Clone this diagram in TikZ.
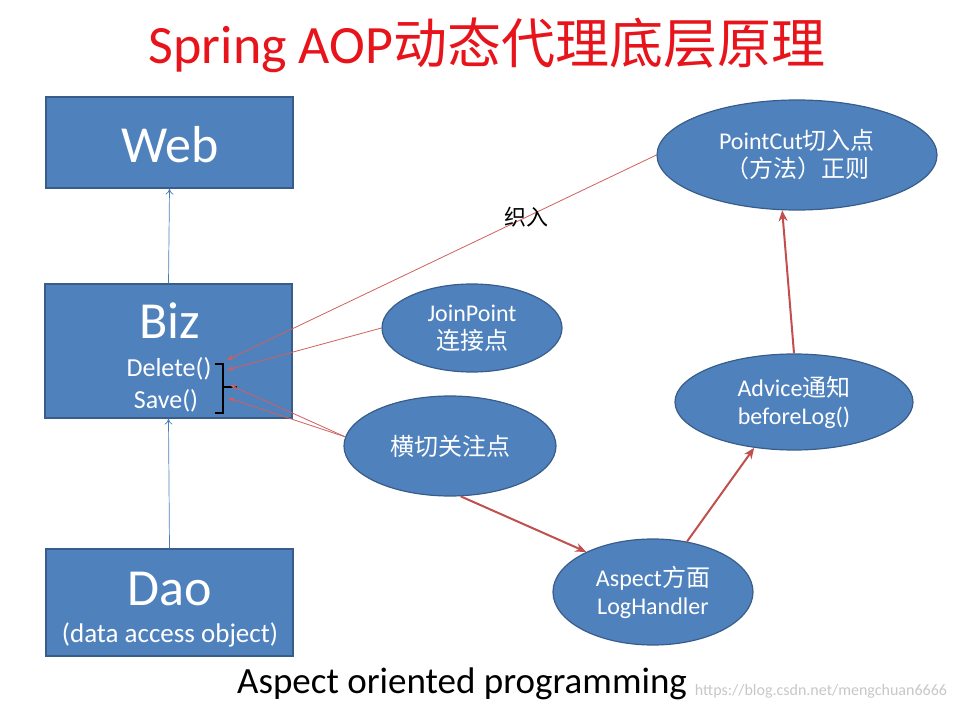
\documentclass[tikz,border=0pt]{standalone}
\usepackage{fontspec}
\setmainfont{Carlito}
\newfontfamily\cjk{Noto Sans CJK SC}
\usetikzlibrary{
  arrows.meta,
  shapes.geometric,
  positioning
}
\definecolor{boxblue}{HTML}{4F81BD}
\definecolor{boxline}{HTML}{385D8A}
\definecolor{titlered}{HTML}{E8141B}
\definecolor{linkred}{HTML}{D0605E}
\definecolor{flowred}{HTML}{C0504D}
\definecolor{uparrow}{HTML}{4A7EBB}

\tikzset{
  layer/.style={draw=boxline, line width=1.2pt, fill=boxblue, inner sep=0pt},
  bubble/.style={ellipse, draw=boxline, line width=1.2pt, fill=boxblue,
    text=white, inner sep=0pt, align=center,
    font=\fontsize{24}{28}\selectfont},
  weave/.style={draw=linkred, line width=0.8pt, -{Stealth[length=7pt,width=5pt]}},
  flow/.style={draw=flowred, line width=2pt, -{Stealth[length=11pt,width=9pt]}},
  callup/.style={draw=uparrow, line width=0.7pt, -{To[length=6pt,width=8pt]}}
}

\begin{document}
\begin{tikzpicture}[x=1pt, y=-1pt]
  \useasboundingbox (0,0) rectangle (959,711);

  % title
  \node[text=titlered, font=\fontsize{54}{58}\selectfont] (title) at (487,45)
    {Spring AOP\cjk 动态代理底层原理};

  % layers
  \node[layer, minimum width=247pt, minimum height=91pt] (web) at (169.5,142.5) {};
  \node[layer, minimum width=247pt, minimum height=134pt] (biz) at (168.5,351) {};
  \node[layer, minimum width=247pt, minimum height=107pt] (dao) at (169.5,602.5) {};

  \node[text=white, font=\fontsize{52}{56}\selectfont] (webtxt) at (170,145) {Web};
  \node[text=white, font=\fontsize{52}{56}\selectfont] (biztxt) at (170,321) {Biz};
  \node[text=white, font=\fontsize{26}{30}\selectfont] (deltxt) at (169,369) {Delete()};
  \node[text=white, font=\fontsize{26}{30}\selectfont] (savetxt) at (166,401) {Save()};
  \node[text=white, font=\fontsize{52}{56}\selectfont] (daotxt) at (170,589) {Dao};
  \node[text=white, font=\fontsize{27}{31}\selectfont] (daosub) at (170,635) {(data access object)};

  \draw[callup] (dao.north) -- (biz.south);
  \draw[callup] (biz.north) -- (web.south);

  % bracket over the two methods
  \draw[line width=2pt] (215,364) -- (223,364) -- (223,413) -- (215,413);
  \draw[line width=2pt] (223,387) -- (237,387);

  % aspect parts
  \node[bubble, minimum width=280pt, minimum height=110pt] (pc) at (797,155)
    {PointCut\cjk 切入点\\\cjk （方法）正则};
  \node[bubble, minimum width=180pt, minimum height=88pt] (jp) at (472,328)
    {JoinPoint\\\cjk 连接点};
  \node[bubble, minimum width=212pt, minimum height=100pt] (hq) at (450,446)
    {\cjk 横切关注点};
  \node[bubble, minimum width=238pt, minimum height=96pt] (adv) at (794,402)
    {Advice\cjk 通知\\beforeLog()};
  \node[bubble, minimum width=200pt, minimum height=106pt] (asp) at (653,592)
    {Aspect\cjk 方面\\LogHandler};

  \coordinate (delA) at (227,360);
  \coordinate (delB) at (227,370);
  \coordinate (midA) at (230,385);
  \coordinate (saveA) at (228,398);

  \draw[weave] (pc.180) -- (delA);
  \draw[weave] (jp.west) -- (delB);
  \draw[weave] (hq.175) -- (midA);
  \draw[weave] (hq.175) -- (saveA);

  \node[font=\fontsize{22}{26}\selectfont\cjk] (weavein) at (526,217) {织入};

  \draw[flow] (hq.-78) -- (asp.149);
  \draw[flow] (asp.56) -- (adv.229);
  \draw[flow] (adv.north) -- (pc.255);

  \node[font=\fontsize{37}{41}\selectfont] (aop) at (462,684) {Aspect oriented programming};
  \node[text=black!22, font=\fontsize{16}{18}\selectfont] (mark) at (821,691)
    {https://blog.csdn.net/mengchuan6666};
\end{tikzpicture}
\end{document}
